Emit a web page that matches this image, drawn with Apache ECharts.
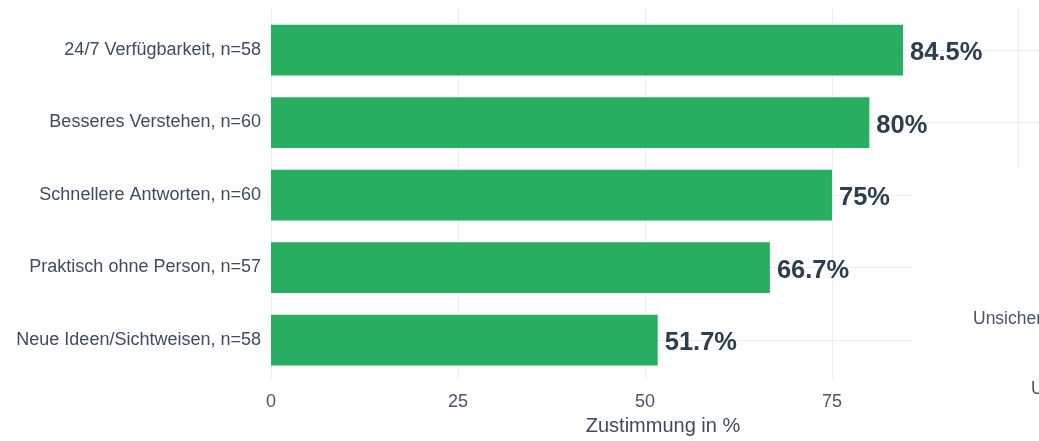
<!DOCTYPE html>
<html>
<head>
<meta charset="utf-8">
<script src="https://cdn.jsdelivr.net/npm/echarts@6/dist/echarts.min.js"></script>
<style>
html,body{margin:0;padding:0;background:#fff;}
#c{width:1039px;height:441px;}
</style>
</head>
<body>
<div id="c"></div>
<script>
var categories = ["24/7 Verfügbarkeit, n=58", "Besseres Verstehen, n=60", "Schnellere Antworten, n=60", "Praktisch ohne Person, n=57", "Neue Ideen/Sichtweisen, n=58"];
var values = [84.5, 80, 75, 66.7, 51.7];
var tickValues = [0, 25, 50, 75];
var axisTitle = "Zustimmung in %";

var FONT = '"Liberation Sans", Arial, sans-serif';
var chart = echarts.init(document.getElementById('c'), null, {renderer: 'canvas'});
chart.setOption({
  animation: false,
  backgroundColor: '#ffffff',
  grid: [
    {left: 271, right: 127, top: 50, bottom: 101, containLabel: false},
    {left: 271, right: 207, top: 7, bottom: 57, containLabel: false}
  ],
  xAxis: [
    {gridIndex: 0, type: 'value', min: 0, max: 85.7, show: false},
    {gridIndex: 1, type: 'value', min: tickValues[0], max: tickValues[tickValues.length - 1], interval: 25,
     axisLine: {show: false}, axisTick: {show: false},
     axisLabel: {color: '#4a5568', fontSize: 18, fontFamily: FONT, margin: 14},
     splitLine: {show: true, lineStyle: {color: '#ebeef0', width: 1}},
     name: axisTitle, nameLocation: 'middle', nameGap: 34,
     nameTextStyle: {color: '#3e4c5e', fontSize: 20, fontFamily: FONT, padding: [0, 0, 0, 223]}}
  ],
  yAxis: [
    {gridIndex: 0, type: 'category', data: categories, inverse: true, boundaryGap: false,
     axisLine: {show: false}, axisTick: {show: false},
     axisLabel: {color: '#3e4c5e', fontSize: 18, fontFamily: FONT, margin: 10, interval: 0, padding: [6, 0, 0, 0]},
     splitLine: {show: true, interval: 0, lineStyle: {color: '#ebeef0', width: 1}}},
    {gridIndex: 1, type: 'value', show: false, min: 0, max: 1}
  ],
  series: [{
    type: 'bar',
    xAxisIndex: 0, yAxisIndex: 0,
    data: values,
    barWidth: '70%',
    clip: false,
    itemStyle: {color: '#27ae60'},
    label: {
      show: true, position: 'right', distance: 7, offset: [0, 3],
      formatter: function (p) { return p.value + '%'; },
      color: '#2c3e50', fontSize: 25.5, fontWeight: 'bold', fontFamily: FONT
    }
  }],
  graphic: [
    {type: 'line', z: -1, shape: {x1: 912, y1: 50.5, x2: 1039, y2: 50.5}, style: {stroke: '#ebeef0', lineWidth: 1}},
    {type: 'line', z: -1, shape: {x1: 912, y1: 122.5, x2: 1039, y2: 122.5}, style: {stroke: '#ebeef0', lineWidth: 1}},
    {type: 'line', z: -1, shape: {x1: 1018.5, y1: 7, x2: 1018.5, y2: 168}, style: {stroke: '#ebeef0', lineWidth: 1}},
    {type: 'text', left: 973, top: 310, style: {text: 'Unsicher', fill: '#4a5568', font: '17.5px "Liberation Sans", Arial, sans-serif'}},
    {type: 'text', left: 1031, top: 380, style: {text: 'Unsicher', fill: '#4a5568', font: '17.5px "Liberation Sans", Arial, sans-serif'}}
  ]
});
</script>
</body>
</html>
